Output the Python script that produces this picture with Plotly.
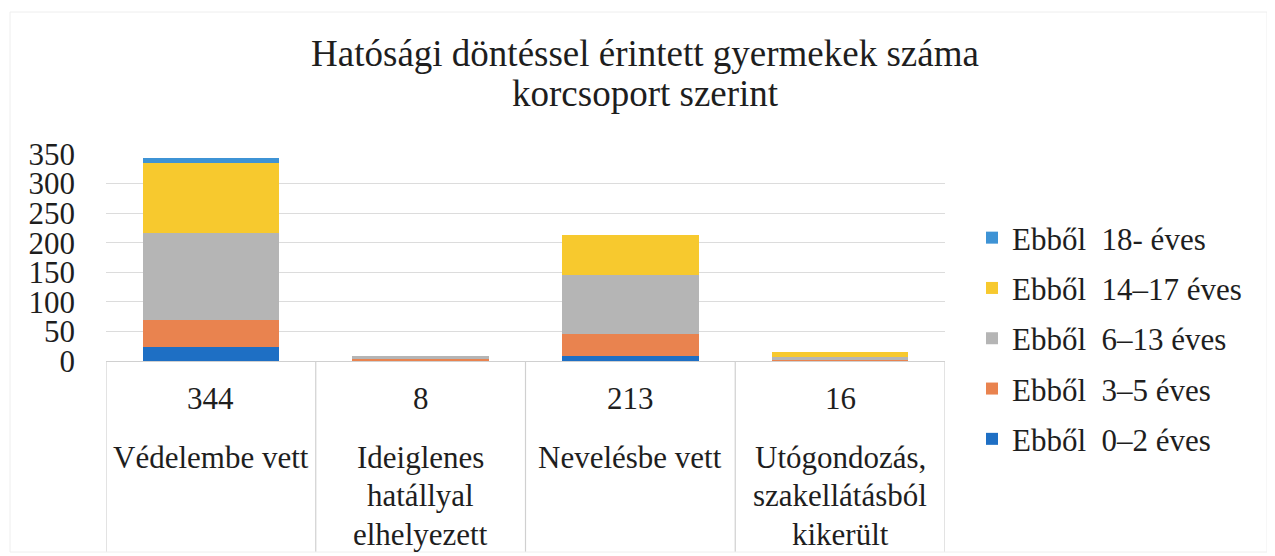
import plotly.graph_objects as go

# ---- data ----
categories = ["Védelembe vett", "Ideiglenes hatállyal elhelyezett", "Nevelésbe vett",
              "Utógondozás, szakellátásból kikerült"]
category_lines = [["Védelembe vett"],
                  ["Ideiglenes", "hatállyal", "elhelyezett"],
                  ["Nevelésbe vett"],
                  ["Utógondozás,", "szakellátásból", "kikerült"]]
totals = [344, 8, 213, 16]
series_names = ["Ebből  0–2 éves", "Ebből  3–5 éves", "Ebből  6–13 éves",
                "Ebből  14–17 éves", "Ebből  18- éves"]
age_0_2 = [23, 0, 9, 0]
age_3_5 = [46, 4, 36, 1]
age_6_13 = [147, 4, 101, 5]
age_14_17 = [118, 0, 67, 10]
age_18 = [10, 0, 0, 0]
series_values = [age_0_2, age_3_5, age_6_13, age_14_17, age_18]
colors = ["#1E6FC4", "#E9834F", "#B5B5B5", "#F7C92E", "#3E93D5"]
y_ticks = [0, 50, 100, 150, 200, 250, 300, 350]
title_lines = ["Hatósági döntéssel érintett gyermekek száma", "korcsoport szerint"]

FONT = "Liberation Serif"
TXT = "#1E1E1E"
OFF = 8  # page body margin
W, H = 1275, 556
ML = 106 - OFF
MT = 154 - OFF
plot_bottom = 361 - OFF
plot_right = 945 - OFF
MB = H - plot_bottom
MR = W - plot_right
plot_h = plot_bottom - MT
plot_w = plot_right - ML


def py(y_ref):
    return (plot_bottom - (y_ref - OFF)) / plot_h


def px(x_ref):
    return ((x_ref - OFF) - ML) / plot_w


x_idx = list(range(len(categories)))
n = len(series_names)

fig = go.Figure()
for i, (name, vals, col) in enumerate(zip(series_names, series_values, colors)):
    fig.add_trace(go.Bar(
        x=x_idx, y=vals, name=name, marker_color=col, marker_line_width=0,
        legendgroup=f"g{i}", legendrank=n - i, hoverinfo="y+name",
    ))

annotations = []
for i, t in enumerate(totals):
    annotations.append(dict(x=i, y=py(398), xref="x", yref="paper", text=str(t),
                            showarrow=False, font=dict(family=FONT, size=31, color=TXT),
                            xanchor="center", yanchor="middle"))
    for j, line in enumerate(category_lines[i]):
        annotations.append(dict(x=i, y=py(457 + 38.5 * j), xref="x", yref="paper", text=line,
                                showarrow=False, font=dict(family=FONT, size=31, color=TXT),
                                xanchor="center", yanchor="middle"))
# second title line
annotations.append(dict(x=px(645), y=py(93), xref="paper", yref="paper", text=title_lines[1],
                        showarrow=False, font=dict(family=FONT, size=37, color=TXT),
                        xanchor="center", yanchor="middle"))

shapes = []
for k in range(len(categories) + 1):
    shapes.append(dict(type="line", xref="x", yref="paper", x0=k - 0.5, x1=k - 0.5,
                       y0=0, y1=py(552), line=dict(color="#D0D0D0", width=1.2)))
shapes.append(dict(type="rect", xref="paper", yref="paper",
                   x0=px(10), x1=px(1267), y0=py(552), y1=py(12),
                   line=dict(color="#EEEEEE", width=1)))

fig.update_layout(
    width=W, height=H,
    margin=dict(l=ML, r=MR, t=MT, b=MB),
    paper_bgcolor="white", plot_bgcolor="white",
    barmode="stack", bargap=0.35,
    title=dict(text=title_lines[0],
               x=(645 - OFF) / W, xanchor="center", y=1 - (53 - OFF) / H, yanchor="middle",
               font=dict(family=FONT, size=37, color=TXT)),
    xaxis=dict(range=[-0.5, len(categories) - 0.5], showticklabels=False, showgrid=False,
               zeroline=False, showline=True, linecolor="#D0D0D0", linewidth=1.2, ticks=""),
    yaxis=dict(range=[0, 350], tickvals=y_ticks, showgrid=True, gridcolor="#DCDCDC",
               gridwidth=1, zeroline=False, showline=False, ticklabelstandoff=30,
               tickfont=dict(family=FONT, size=31, color=TXT), ticklen=0, ticks=""),
    legend=dict(x=px(972), xanchor="left", y=py(211), yanchor="top",
                traceorder="grouped", tracegroupgap=7, maxheight=420,
                font=dict(family=FONT, size=31, color=TXT),
                itemwidth=30, bgcolor="rgba(0,0,0,0)"),
    annotations=annotations, shapes=shapes,
    showlegend=True,
)

fig.write_html("out.html")
